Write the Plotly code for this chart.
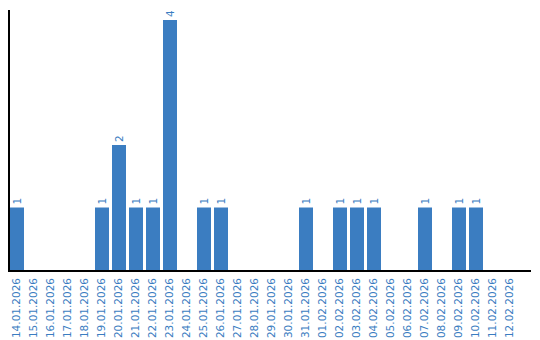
import plotly.graph_objects as go

dates = ["14.01.2026", "15.01.2026", "16.01.2026", "17.01.2026", "18.01.2026",
         "19.01.2026", "20.01.2026", "21.01.2026", "22.01.2026", "23.01.2026",
         "24.01.2026", "25.01.2026", "26.01.2026", "27.01.2026", "28.01.2026",
         "29.01.2026", "30.01.2026", "31.01.2026", "01.02.2026", "02.02.2026",
         "03.02.2026", "04.02.2026", "05.02.2026", "06.02.2026", "07.02.2026",
         "08.02.2026", "09.02.2026", "10.02.2026", "11.02.2026", "12.02.2026"]
counts = [1, 0, 0, 0, 0, 1, 2, 1, 1, 4, 0, 1, 1, 0, 0, 0, 0, 1, 0, 1,
          1, 1, 0, 0, 1, 0, 1, 1, 0, 0]

blue = "#3b7dc1"
font = "DejaVu Sans"
idx = list(range(len(dates)))
labels = [str(c) if c > 0 else "" for c in counts]

fig = go.Figure(go.Bar(
    x=idx, y=counts, width=14/17, marker=dict(color=blue, line=dict(width=0)),
    text=labels, textposition="outside", textangle=-90, cliponaxis=False,
    textfont=dict(family=font, size=10.5, color=blue),
))
fig.update_layout(
    width=540, height=340, margin=dict(l=10, r=9, t=10, b=70, autoexpand=False),
    paper_bgcolor="white", plot_bgcolor="white", showlegend=False,
    font=dict(family=font, size=10.5, color=blue),
    xaxis=dict(tickmode="array", tickvals=idx, ticktext=dates, tickangle=-90,
               range=[-7/17, -7/17 + 521/17], showgrid=False, zeroline=False,
               showline=True, linecolor="black", linewidth=1.5, ticks="",
               automargin=False, ticklabelstandoff=2,
               tickfont=dict(family=font, size=10.5, color=blue)),
    yaxis=dict(range=[0, 4.16], showgrid=False, zeroline=False, showticklabels=False,
               showline=True, linecolor="black", linewidth=1.5, ticks="",
               automargin=False),
)
fig.write_html("out.html")
